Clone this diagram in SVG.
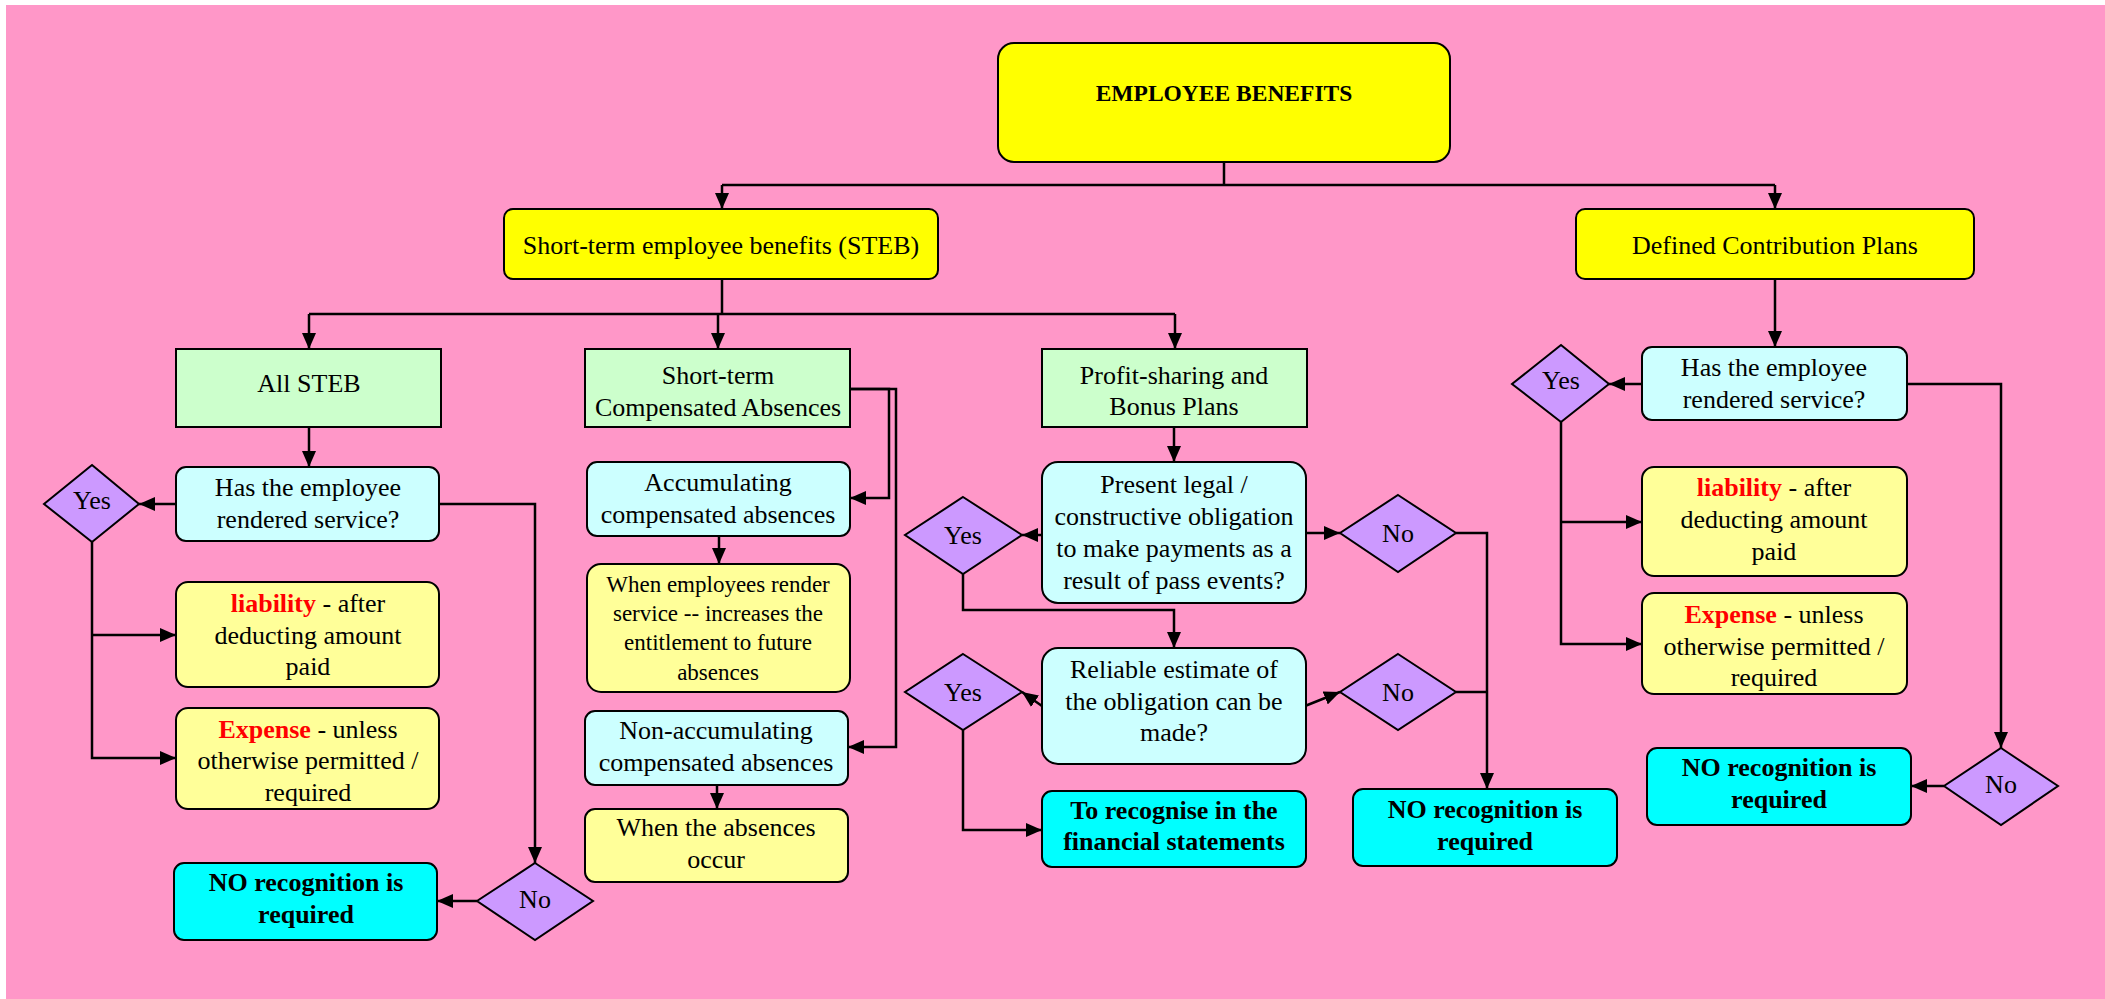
<svg xmlns="http://www.w3.org/2000/svg" width="2105" height="999" viewBox="0 0 2105 999">
<style>
.bx{stroke:#000;stroke-width:2}
.y{fill:#FFFF00}.g{fill:#CCFFCC}.q{fill:#CCFFFF}.o{fill:#FFFF99}.c{fill:#00FFFF}.d{fill:#CC99FF}
text{font-family:"Liberation Serif","Times New Roman",serif;font-size:26px;fill:#000;text-anchor:middle}
.b{font-weight:bold}
.s{font-size:23px}
.t{font-size:23.5px;font-weight:bold}
.r{fill:#FF0000;font-weight:bold}
#connectors path{fill:none;stroke:#000;stroke-width:2.5}
</style>
<defs>
<marker id="ah" viewBox="0 0 16 14" refX="16" refY="7" markerWidth="16" markerHeight="14" markerUnits="userSpaceOnUse" orient="auto"><path d="M0,0 L16,7 L0,14 z" fill="#000"/></marker>
</defs>
<rect x="6" y="5" width="2099" height="994" fill="#FF97C8"/>
<g id="connectors">
<path d="M1224,162 V185"/>
<path d="M722,185 H1775"/>
<path d="M722,185 V209" marker-end="url(#ah)"/>
<path d="M1775,185 V209" marker-end="url(#ah)"/>
<path d="M722,279 V314"/>
<path d="M309,314 H1175"/>
<path d="M309,314 V349" marker-end="url(#ah)"/>
<path d="M718,314 V349" marker-end="url(#ah)"/>
<path d="M1175,314 V349" marker-end="url(#ah)"/>
<path d="M309,427 V467" marker-end="url(#ah)"/>
<path d="M176,504 H139" marker-end="url(#ah)"/>
<path d="M439,504 H535 V863" marker-end="url(#ah)"/>
<path d="M477,901 H437" marker-end="url(#ah)"/>
<path d="M92,542 V758 H176" marker-end="url(#ah)"/>
<path d="M92,635 H176" marker-end="url(#ah)"/>
<path d="M850,389 H889 V498 H850" marker-end="url(#ah)"/>
<path d="M850,389 H896 V747 H848" marker-end="url(#ah)"/>
<path d="M719,536 V564" marker-end="url(#ah)"/>
<path d="M717,785 V809" marker-end="url(#ah)"/>
<path d="M1174,427 V462" marker-end="url(#ah)"/>
<path d="M1042,535 H1022" marker-end="url(#ah)"/>
<path d="M963,574 V610 H1174 V648" marker-end="url(#ah)"/>
<path d="M1042,706 L1022,692" marker-end="url(#ah)"/>
<path d="M963,730 V830 H1042" marker-end="url(#ah)"/>
<path d="M1306,533 H1340" marker-end="url(#ah)"/>
<path d="M1305,706 L1340,692" marker-end="url(#ah)"/>
<path d="M1456,533 H1487 V789" marker-end="url(#ah)"/>
<path d="M1456,692 H1487"/>
<path d="M1775,279 V347" marker-end="url(#ah)"/>
<path d="M1642,384 H1609" marker-end="url(#ah)"/>
<path d="M1561,422 V644 H1642" marker-end="url(#ah)"/>
<path d="M1561,522 H1642" marker-end="url(#ah)"/>
<path d="M1907,384 H2001 V748" marker-end="url(#ah)"/>
<path d="M1944,786 H1911" marker-end="url(#ah)"/>
</g>
<g id="title"><rect class="bx y" x="998" y="43" width="452" height="119" rx="16"/><text class="t" x="1224" y="101">EMPLOYEE BENEFITS</text></g>
<g id="steb"><rect class="bx y" x="504" y="209" width="434" height="70" rx="9"/><text x="721" y="254">Short-term employee benefits (STEB)</text></g>
<g id="dcp"><rect class="bx y" x="1576" y="209" width="398" height="70" rx="9"/><text x="1775" y="254">Defined Contribution Plans</text></g>
<g id="allsteb"><rect class="bx g" x="176" y="349" width="265" height="78"/><text x="309" y="392">All STEB</text></g>
<g id="stca"><rect class="bx g" x="585" y="349" width="265" height="78"/><text x="718" y="384">Short-term</text><text x="718" y="416">Compensated Absences</text></g>
<g id="psb"><rect class="bx g" x="1042" y="349" width="265" height="78"/><text x="1174" y="384">Profit-sharing and</text><text x="1174" y="415">Bonus Plans</text></g>
<g id="q1"><rect class="bx q" x="176" y="467" width="263" height="74" rx="10"/><text x="308" y="496">Has the employee</text><text x="308" y="528">rendered service?</text></g>
<g id="yes1"><polygon class="bx d" points="92,465 139,504 92,542 44,504"/><text x="92" y="509">Yes</text></g>
<g id="no1"><polygon class="bx d" points="535,863 593,901 535,940 477,901"/><text x="535" y="908">No</text></g>
<g id="norec1"><rect class="bx c" x="174" y="863" width="263" height="77" rx="10"/><text class="b" x="306" y="891">NO recognition is</text><text class="b" x="306" y="923">required</text></g>
<g id="liab1"><rect class="bx o" x="176" y="582" width="263" height="105" rx="12"/><text x="308" y="612"><tspan class="r">liability</tspan> - after</text><text x="308" y="644">deducting amount</text><text x="308" y="675">paid</text></g>
<g id="exp1"><rect class="bx o" x="176" y="708" width="263" height="101" rx="12"/><text x="308" y="738"><tspan class="r">Expense</tspan> - unless</text><text x="308" y="769">otherwise permitted /</text><text x="308" y="801">required</text></g>
<g id="acc"><rect class="bx q" x="587" y="462" width="263" height="74" rx="10"/><text x="718" y="491">Accumulating</text><text x="718" y="523">compensated absences</text></g>
<g id="accdesc"><rect class="bx o" x="587" y="564" width="263" height="128" rx="14"/><text class="s" x="718" y="592">When employees render</text><text class="s" x="718" y="621">service -- increases the</text><text class="s" x="718" y="650">entitlement to future</text><text class="s" x="718" y="680">absences</text></g>
<g id="nonacc"><rect class="bx q" x="585" y="711" width="263" height="74" rx="10"/><text x="716" y="739">Non-accumulating</text><text x="716" y="771">compensated absences</text></g>
<g id="nonaccdesc"><rect class="bx o" x="585" y="809" width="263" height="73" rx="10"/><text x="716" y="836">When the absences</text><text x="716" y="868">occur</text></g>
<g id="q2"><rect class="bx q" x="1042" y="462" width="264" height="141" rx="16"/><text x="1174" y="493">Present legal /</text><text x="1174" y="525">constructive obligation</text><text x="1174" y="557">to make payments as a</text><text x="1174" y="589">result of pass events?</text></g>
<g id="yes2"><polygon class="bx d" points="963,497 1022,535 963,574 905,535"/><text x="963" y="544">Yes</text></g>
<g id="no2"><polygon class="bx d" points="1398,495 1456,533 1398,572 1340,533"/><text x="1398" y="542">No</text></g>
<g id="q3"><rect class="bx q" x="1042" y="648" width="264" height="116" rx="16"/><text x="1174" y="678">Reliable estimate of</text><text x="1174" y="710">the obligation can be</text><text x="1174" y="741">made?</text></g>
<g id="yes3"><polygon class="bx d" points="963,654 1022,692 963,730 905,692"/><text x="963" y="701">Yes</text></g>
<g id="no3"><polygon class="bx d" points="1398,654 1456,692 1398,730 1340,692"/><text x="1398" y="701">No</text></g>
<g id="rec"><rect class="bx c" x="1042" y="791" width="264" height="76" rx="10"/><text class="b" x="1174" y="819">To recognise in the</text><text class="b" x="1174" y="850">financial statements</text></g>
<g id="norec2"><rect class="bx c" x="1353" y="789" width="264" height="77" rx="10"/><text class="b" x="1485" y="818">NO recognition is</text><text class="b" x="1485" y="850">required</text></g>
<g id="q4"><rect class="bx q" x="1642" y="347" width="265" height="73" rx="10"/><text x="1774" y="376">Has the employee</text><text x="1774" y="408">rendered service?</text></g>
<g id="yes4"><polygon class="bx d" points="1561,345 1609,384 1561,422 1512,384"/><text x="1561" y="389">Yes</text></g>
<g id="liab2"><rect class="bx o" x="1642" y="467" width="265" height="109" rx="12"/><text x="1774" y="496"><tspan class="r">liability</tspan> - after</text><text x="1774" y="528">deducting amount</text><text x="1774" y="560">paid</text></g>
<g id="exp2"><rect class="bx o" x="1642" y="593" width="265" height="101" rx="12"/><text x="1774" y="623"><tspan class="r">Expense</tspan> - unless</text><text x="1774" y="655">otherwise permitted /</text><text x="1774" y="686">required</text></g>
<g id="no4"><polygon class="bx d" points="2001,748 2058,786 2001,825 1944,786"/><text x="2001" y="793">No</text></g>
<g id="norec3"><rect class="bx c" x="1647" y="748" width="264" height="77" rx="10"/><text class="b" x="1779" y="776">NO recognition is</text><text class="b" x="1779" y="808">required</text></g>
</svg>
